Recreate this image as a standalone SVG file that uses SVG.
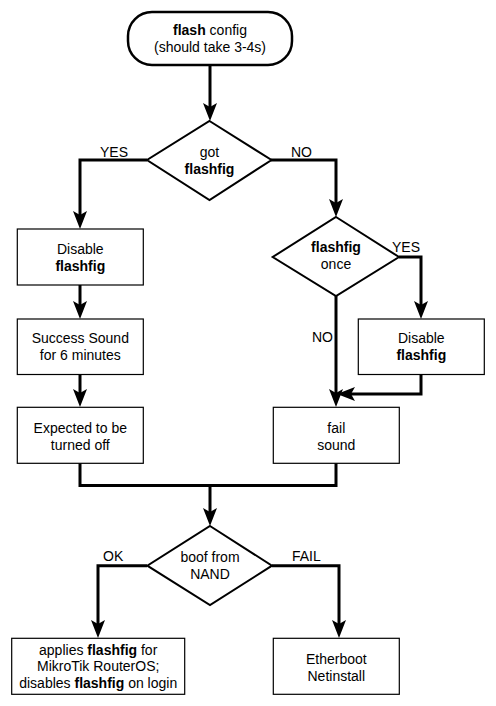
<svg xmlns="http://www.w3.org/2000/svg" width="496" height="706" viewBox="0 0 496 706">
<style>
text{font-family:"Liberation Sans",Arial,Helvetica,sans-serif;font-size:14px;fill:#000;text-anchor:middle}
.b{font-weight:bold}
.box{fill:#fff;stroke:#000;stroke-width:1.2}
.dia{fill:#fff;stroke:#000;stroke-width:2}
.term{fill:#fff;stroke:#000;stroke-width:2.5}
.conn{fill:none;stroke:#000;stroke-width:3;stroke-linejoin:miter}
.arr{marker-end:url(#ah)}
.lbl{text-anchor:start}
</style>
<defs>
<marker id="ah" markerUnits="userSpaceOnUse" markerWidth="20" markerHeight="16" refX="8" refY="7" orient="auto" overflow="visible">
<path d="M0,0 L18,7 L0,14 L4,7 Z" fill="#000"/>
</marker>
</defs>
<g id="connectors">
<path class="conn arr" d="M210,65 V111"/>
<path class="conn arr" d="M147,160 H80 V219"/>
<path class="conn arr" d="M271,160 H336 V207"/>
<path class="conn arr" d="M80,285 V309"/>
<path class="conn arr" d="M80,374.5 V397"/>
<path class="conn arr" d="M399,257 H421 V309"/>
<path class="conn arr" d="M336,296 V397"/>
<path class="conn arr" d="M421,374.5 V394 H347"/>
<path class="conn" d="M80,463 V485.5 H336 V463"/>
<path class="conn arr" d="M210,485.5 V516"/>
<path class="conn arr" d="M147,565.7 H98 V628"/>
<path class="conn arr" d="M272,565.7 H339 V628"/>
<text class="lbl" x="100" y="157">YES</text>
<text class="lbl" x="291" y="157">NO</text>
<text class="lbl" x="392" y="252">YES</text>
<text class="lbl" x="312" y="342">NO</text>
<text class="lbl" x="103" y="561">OK</text>
<text class="lbl" x="292" y="561">FAIL</text>
</g>
<g id="start">
<rect class="term" x="128" y="12" width="164" height="53" rx="24" ry="24"/>
<text x="210" y="35"><tspan class="b">flash</tspan> config</text>
<text x="210" y="52">(should take 3-4s)</text>
</g>
<g id="got-flashfig">
<polygon class="dia" points="209.5,121 271.5,160 209.5,200 147,160"/>
<text x="209.5" y="157">got</text>
<text x="209.5" y="174" class="b">flashfig</text>
</g>
<g id="disable-left">
<rect class="box" x="17.3" y="229" width="126" height="56"/>
<text x="80.3" y="254">Disable</text>
<text x="80.3" y="271" class="b">flashfig</text>
</g>
<g id="success-sound">
<rect class="box" x="17.3" y="319" width="126" height="55.5"/>
<text x="80.3" y="343">Success Sound</text>
<text x="80.3" y="360">for 6 minutes</text>
</g>
<g id="expected-off">
<rect class="box" x="17.3" y="407.3" width="126" height="56"/>
<text x="80.3" y="433">Expected to be</text>
<text x="80.3" y="449.5">turned off</text>
</g>
<g id="flashfig-once">
<polygon class="dia" points="336,217 399,257 336,296 272.7,257"/>
<text x="336" y="252" class="b">flashfig</text>
<text x="336" y="269">once</text>
</g>
<g id="disable-right">
<rect class="box" x="358.3" y="319" width="126" height="55.5"/>
<text x="421.3" y="343">Disable</text>
<text x="421.3" y="360" class="b">flashfig</text>
</g>
<g id="fail-sound">
<rect class="box" x="273.3" y="407.3" width="126" height="56"/>
<text x="336.3" y="433">fail</text>
<text x="336.3" y="449.5">sound</text>
</g>
<g id="boof-nand">
<polygon class="dia" points="210,526 272,565.7 210,605 147.3,565.7"/>
<text x="210" y="562">boof from</text>
<text x="210" y="578.5">NAND</text>
</g>
<g id="applies-flashfig">
<rect class="box" x="11.7" y="638.3" width="173" height="56"/>
<text x="98.2" y="654.5">applies <tspan class="b">flashfig</tspan> for</text>
<text x="98.2" y="671">MikroTik RouterOS;</text>
<text x="98.2" y="687.7">disables <tspan class="b">flashfig</tspan> on login</text>
</g>
<g id="etherboot">
<rect class="box" x="273.3" y="638.3" width="126" height="56"/>
<text x="336.3" y="663.5">Etherboot</text>
<text x="336.3" y="680.5">Netinstall</text>
</g>
</svg>
